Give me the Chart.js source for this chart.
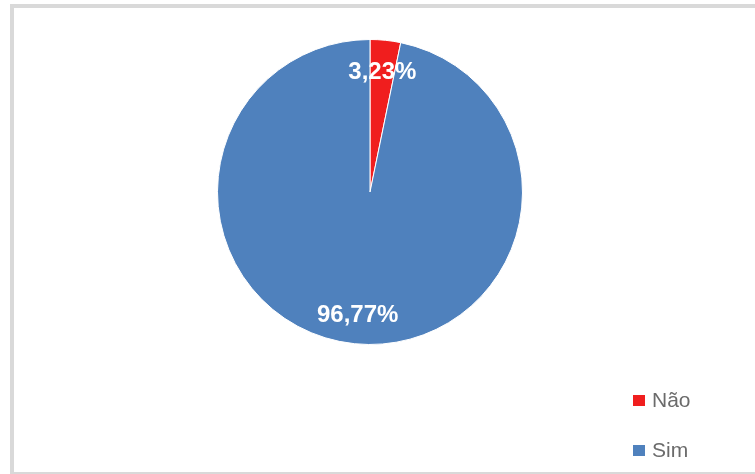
<!DOCTYPE html>
<html>
<head>
<meta charset="utf-8">
<script src="https://cdn.jsdelivr.net/npm/chart.js@4.4.1/dist/chart.umd.min.js"></script>
<style>
html, body { margin: 0; padding: 0; background: #fff; }
body { width: 755px; height: 474px; position: relative; overflow: hidden; font-family: "Liberation Sans", Arial, sans-serif; }
.frame {
  position: absolute; left: 10px; top: 4px; width: 800px; height: 464px;
  border: 4px solid #d9d9d9; border-right: none;
}
#chartPizza { position: absolute; left: 0; top: 0; }
.legenda { position: absolute; left: 633px; top: 383px; }
.legenda-item { display: flex; align-items: center; height: 34px; margin-bottom: 16px; color: #6b6b6b; font-size: 21px; }
.legenda-cor { width: 12px; height: 11px; margin-right: 7px; }
</style>
</head>
<body>
<div class="frame"></div>
<canvas id="chartPizza" width="755" height="474"></canvas>
<div class="legenda" id="legenda"></div>

<script>
var categorias = ['Não', 'Sim'];
var percentuais = [3.23, 96.77];
var cores = ['#f01e1e', '#4f81bd'];

function formatPct(v) {
  return v.toFixed(2).replace('.', ',') + '%';
}

// rótulos de porcentagem dentro das fatias
var rotulosPlugin = {
  id: 'rotulos',
  afterDatasetsDraw: function(chart) {
    var ctx = chart.ctx;
    var meta = chart.getDatasetMeta(0);
    ctx.save();
    ctx.font = 'bold 24px "Liberation Sans", Arial, sans-serif';
    ctx.fillStyle = '#ffffff';
    ctx.textAlign = 'center';
    ctx.textBaseline = 'middle';
    for (var i = 0; i < meta.data.length; i++) {
      var arc = meta.data[i];
      var p = arc.getProps(['x', 'y', 'startAngle', 'endAngle', 'outerRadius'], true);
      var mid = (p.startAngle + p.endAngle) / 2;
      var r = p.outerRadius * 0.8;
      ctx.fillText(formatPct(percentuais[i]), p.x + Math.cos(mid) * r, p.y + Math.sin(mid) * r + 2);
    }
    ctx.restore();
  }
};

new Chart(document.getElementById('chartPizza'), {
  type: 'pie',
  data: {
    labels: categorias,
    datasets: [{
      data: percentuais,
      backgroundColor: cores,
      borderColor: '#ffffff',
      borderWidth: 1
    }]
  },
  options: {
    responsive: false,
    animation: false,
    layout: { padding: { left: 60, right: 75, top: 39, bottom: 129 } },
    plugins: {
      legend: { display: false },
      tooltip: { enabled: false }
    }
  },
  plugins: [rotulosPlugin]
});

var leg = document.getElementById('legenda');
for (var li = 0; li < categorias.length; li++) {
  var item = document.createElement('div');
  item.className = 'legenda-item';
  var cor = document.createElement('span');
  cor.className = 'legenda-cor';
  cor.style.background = cores[li];
  var txt = document.createElement('span');
  txt.textContent = categorias[li];
  item.appendChild(cor);
  item.appendChild(txt);
  leg.appendChild(item);
}
</script>
</body>
</html>
